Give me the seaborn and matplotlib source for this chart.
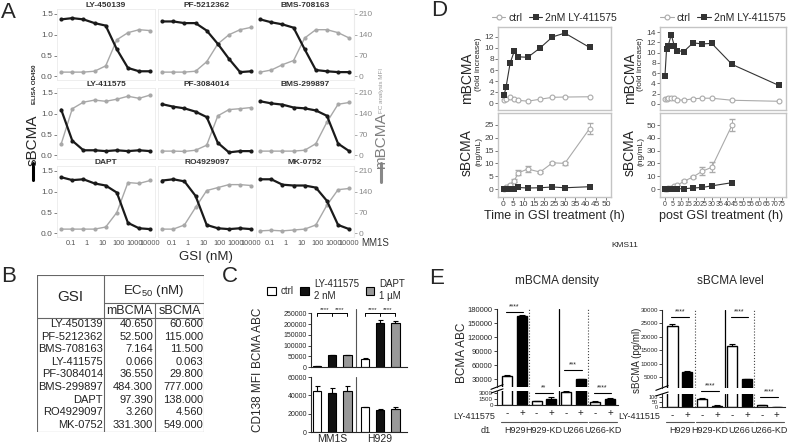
import numpy as np
import pandas as pd
import matplotlib
matplotlib.use("Agg")
import matplotlib.pyplot as plt
import matplotlib.transforms as mtransforms
from matplotlib.lines import Line2D
from matplotlib.container import BarContainer
import seaborn as sns

sns.set_style("ticks")
plt.rcParams['font.family'] = ['Liberation Sans', 'DejaVu Sans']
plt.rcParams['mathtext.default'] = 'regular'

W, H = 790, 444

# ---- panel A: dose response, 9 GSIs (MM1S)
gsi_names = ['LY-450139', 'PF-5212362', 'BMS-708163',
             'LY-411575', 'PF-3084014', 'BMS-299897',
             'DAPT', 'RO4929097', 'MK-0752']
gsi_conc = [0.0256, 0.128, 0.64, 3.2, 16, 80, 400, 2000, 10000]
sbcma_od = [
    [1.37, 1.40, 1.37, 1.28, 1.22, 0.65, 0.20, 0.12, 0.12],
    [1.32, 1.32, 1.28, 1.28, 1.10, 0.78, 0.42, 0.10, 0.12],
    [1.37, 1.30, 1.25, 1.17, 0.65, 0.15, 0.12, 0.10, 0.10],
    [1.10, 0.35, 0.12, 0.12, 0.10, 0.12, 0.10, 0.12, 0.10],
    [1.23, 1.17, 1.13, 1.05, 0.92, 0.30, 0.07, 0.10, 0.10],
    [1.30, 1.25, 1.22, 1.15, 1.13, 1.08, 0.95, 0.28, 0.10],
    [1.35, 1.28, 1.30, 1.20, 1.15, 0.98, 0.25, 0.12, 0.10],
    [1.27, 1.30, 1.25, 0.90, 0.20, 0.12, 0.10, 0.12, 0.10],
    [1.30, 1.30, 1.17, 1.15, 1.15, 1.10, 0.78, 0.20, 0.10],
]
mbcma_mfi = [
    [14, 14, 14, 17, 35, 123, 147, 157, 154],
    [14, 14, 14, 17, 49, 109, 140, 157, 165],
    [14, 21, 39, 53, 129, 157, 157, 147, 129],
    [38, 157, 179, 186, 182, 189, 199, 192, 203],
    [14, 14, 13, 17, 34, 133, 154, 157, 161],
    [14, 14, 14, 14, 17, 39, 112, 172, 178],
    [14, 14, 14, 14, 21, 70, 171, 168, 178],
    [14, 14, 28, 87, 144, 154, 164, 164, 161],
    [8, 10, 8, 11, 14, 28, 95, 147, 151],
]

# ---- panel B: EC50 table
ec50_mbcma = ['40.650', '52.500', '7.164', '0.066', '36.550', '484.300', '97.390', '3.260', '331.300']
ec50_sbcma = ['60.600', '115.000', '11.500', '0.063', '29.800', '777.000', '138.000', '4.560', '549.000']

# ---- panel C: bars
c_cells = ['MM1S', 'H929']
c_treat = ['ctrl', 'LY-411575\n2 nM', 'DAPT\n1 µM']
abc_mm1s = [4500, 55000, 55000]
abc_h929 = [39000, 206000, 205000]
abc_err_mm1s = [800, 2500, 2000]
abc_err_h929 = [2500, 12000, 7000]
cd138_mm1s = [45000, 42500, 44300]
cd138_h929 = [26800, 24400, 25500]
cd138_err_mm1s = [5500, 5000, 5500]
cd138_err_h929 = [400, 1000, 1500]

# ---- panel D: time course (KMS11)
t_in = [0.5, 1.5, 3.5, 5.5, 7.5, 12, 18, 24, 30, 42]
in_m_ctrl = [0.6, 0.8, 1.1, 0.8, 0.5, 0.35, 0.7, 1.05, 1.1, 1.15]
in_m_ly = [1.4, 2.9, 7.3, 9.4, 8.4, 8.3, 10.0, 12.0, 12.7, 10.1]
in_s_ctrl = [0.2, 0.6, 1.5, 3.3, 6.3, 7.8, 6.6, 10.2, 10.0, 23.5]
in_s_ctrl_err = [0.1, 0.2, 0.3, 0.5, 1.0, 1.0, 0.4, 0.3, 0.5, 2.2]
in_s_ly = [0.0, 0.1, 0.2, 0.2, 0.6, 0.4, 0.5, 0.8, 0.5, 0.9]

t_post = [0, 1, 2, 4, 6, 8, 12, 18, 24, 30, 43, 73]
post_m_ctrl = [1.0, 0.9, 1.1, 1.2, 1.1, 0.8, 0.7, 1.0, 1.1, 1.1, 0.7, 0.5]
post_m_ly = [5.5, 10.7, 11.3, 13.5, 11.3, 10.4, 10.2, 11.9, 11.7, 11.8, 7.7, 3.6]
t_post_s = [0, 1, 2, 4, 6, 8, 12, 18, 24, 30, 43]
post_s_ctrl = [0, 0.2, 0.5, 1.0, 2.0, 3.0, 6.0, 9.5, 14, 17, 50]
post_s_ctrl_err = [0.2, 0.2, 0.3, 0.4, 0.5, 0.5, 0.8, 1.0, 3.0, 4.0, 5.0]
post_s_ly = [0, 0, 0, 0, 0.1, 0.2, 0.3, 0.8, 1.3, 2.5, 5.0]

# ---- panel E: knockdown bars
e_groups = ['H929', 'H929-KD', 'U266', 'U266-KD']
e_ly = ['-', '+'] * 4
e_abc = [37500, 165000, 900, 1600, 3300, 30000, 800, 1600]
e_abc_err = [1200, 2500, 150, 300, 200, 800, 100, 200]
e_sbcma = [24000, 7000, 85, 15, 16500, 4200, 20, 3]
e_sbcma_err = [900, 400, 5, 3, 900, 150, 5, 1]


fig = plt.figure(figsize=(W / 100, H / 100), dpi=100)


def px_axes(x0, y0, x1, y1):
    return fig.add_axes([x0 / W, 1 - y1 / H, (x1 - x0) / W, (y1 - y0) / H])


def ftext(x, y, s, **kw):
    kw.setdefault('va', 'center')
    return fig.text(x / W, 1 - y / H, s, **kw)


def fline(xs, ys, **kw):
    fig.add_artist(Line2D([x / W for x in xs], [1 - y / H for y in ys], **kw))


def bar_containers(ax):
    return [c for c in ax.containers if isinstance(c, BarContainer)]


# ================= A =================
col_x = [57, 158, 256]
row_y = [9, 88, 166]
for i, name in enumerate(gsi_names):
    r, c = divmod(i, 3)
    ax = px_axes(col_x[c], row_y[r], col_x[c] + 98, row_y[r] + 71)
    df = pd.DataFrame({'conc': gsi_conc, 'od': sbcma_od[i],
                       'mfi': np.array(mbcma_mfi[i]) / 140})
    sns.lineplot(data=df, x='conc', y='mfi', color='#a8a8a8', lw=1.0,
                 marker='o', markersize=3, markeredgewidth=0, ax=ax)
    sns.lineplot(data=df, x='conc', y='od', color='#1a1a1a', lw=1.6,
                 marker='o', markersize=3, markeredgewidth=0, ax=ax)
    ax.set_xscale('log')
    ax.set_xlim(0.014, 20000)
    ax.set_ylim(-0.09, 1.62)
    ax.set_xlabel('')
    ax.set_ylabel('')
    ax.minorticks_off()
    for s in ax.spines.values():
        s.set_color('#ebebeb')
        s.set_linewidth(0.6)
    ax.set_title(name, fontsize=6, fontweight='bold', color='#333333', pad=1.5)
    ax.set_yticks([0, 0.5, 1.0, 1.5])
    ax.set_xticks([0.1, 1, 10, 100, 1000, 10000])
    if c == 0:
        ax.set_yticklabels(['0.0', '0.5', '1.0', '1.5'])
        ax.tick_params(axis='y', labelsize=6, length=2, width=0.5,
                       colors='#555555', pad=1)
    else:
        ax.tick_params(axis='y', left=False, labelleft=False)
    if r == 2:
        ax.set_xticklabels(['0.1', '1', '10', '100', '1000', '10000'])
        ax.tick_params(axis='x', labelsize=5.3, length=0, colors='#555555', pad=2)
    else:
        ax.tick_params(axis='x', bottom=False, labelbottom=False)
    if c == 2:
        sec = ax.secondary_yaxis('right', functions=(lambda y: y * 140, lambda v: v / 140))
        sec.set_yticks([0, 70, 140, 210])
        sec.tick_params(labelsize=6, length=2, width=0.5, colors='#8a8a8a', pad=1)
        sec.spines['right'].set_color('#ebebeb')

ftext(1, 12, 'A', fontsize=16)
ftext(206, 257, 'GSI (nM)', fontsize=9.5, ha='center')
ftext(361, 243, 'MM1S', fontsize=7, color='#333333')
ftext(33, 140, 'sBCMA', rotation=90, fontsize=11, ha='center')
ftext(34, 84, 'ELISA OD450', rotation=90, fontsize=4.5, fontweight='bold', ha='center')
fline([33, 33], [163, 180], color='black', lw=2.2)
ftext(381, 141, 'mBCMA', rotation=90, fontsize=11, color='#808080', ha='center')
ftext(381, 90, 'FC analysis MFI', rotation=90, fontsize=4.5, color='#999999', ha='center')
fline([381, 381], [163, 182], color='#888888', lw=2.2)

# ================= B =================
ftext(1, 277, 'B', fontsize=16)
axb = px_axes(37, 275, 204, 432)
axb.set_xlim(37, 204)
axb.set_ylim(432, 275)
axb.axis('off')
lk = dict(color='#666666', lw=0.8)
axb.plot([37, 204, 204, 37, 37], [275, 275, 432, 432, 275], **lk)
axb.plot([104, 104], [275, 432], **lk)
axb.plot([155, 155], [303, 432], **lk)
axb.plot([104, 204], [303, 303], **lk)
axb.plot([37, 204], [318, 318], **lk)
axb.text(70, 297, 'GSI', fontsize=11, ha='center', va='center')
axb.text(154, 291, r'EC$_{50}$ (nM)', fontsize=9.5, ha='center', va='center')
axb.text(129.5, 311, 'mBCMA', fontsize=9, ha='center', va='center')
axb.text(179.5, 311, 'sBCMA', fontsize=9, ha='center', va='center')
for k, name in enumerate(gsi_names):
    yy = 324 + 12.6 * k
    axb.text(103, yy, name, fontsize=8, ha='right', va='center', color='#222222')
    axb.text(153, yy, ec50_mbcma[k], fontsize=8, ha='right', va='center', color='#222222')
    axb.text(203, yy, ec50_sbcma[k], fontsize=8, ha='right', va='center', color='#222222')

# ================= C =================
ftext(222, 277, 'C', fontsize=16)
c_pal = ['white', '#111111', '#999999']


def c_bars(ax, v_mm1s, v_h929, e_mm1s, e_h929, with_legend=False):
    df = pd.DataFrame({'cell': [c_cells[0]] * 3 + [c_cells[1]] * 3,
                       'treat': c_treat * 2,
                       'val': v_mm1s + v_h929})
    sns.barplot(data=df, x='cell', y='val', hue='treat', palette=c_pal,
                width=0.96, gap=0.45, edgecolor='black', linewidth=0.8,
                legend=with_legend, ax=ax)
    errs = [[e_mm1s[h], e_h929[h]] for h in range(3)]
    for h, cont in enumerate(bar_containers(ax)):
        for j, bar in enumerate(cont):
            cx = bar.get_x() + bar.get_width() / 2
            ax.errorbar(cx, bar.get_height(), yerr=[[0], [errs[h][j]]],
                        color='black', capsize=1.8, lw=0.8, capthick=0.8)
    ax.axvline(0.5, color='#555555', lw=0.8)
    ax.set_xlim(-0.44, 1.56)
    ax.set_xlabel('')
    sns.despine(ax=ax)
    ax.tick_params(axis='y', labelsize=5, length=2, width=0.6, pad=1)


axc1 = px_axes(311, 309, 407, 367)
c_bars(axc1, abc_mm1s, abc_h929, abc_err_mm1s, abc_err_h929, with_legend=True)
axc1.set_ylim(0, 270000)
axc1.set_yticks(range(0, 250001, 50000))
axc1.spines['left'].set_bounds(0, 250000)
axc1.tick_params(axis='x', length=0, labelbottom=False)
axc1.set_ylabel('')
handles, labels = axc1.get_legend_handles_labels()
axc1.get_legend().remove()
fig.legend(handles, labels, loc='center', ncol=3, frameon=False, fontsize=7,
           bbox_to_anchor=(336 / W, 1 - 290 / H), handlelength=0.9, handleheight=0.9,
           columnspacing=0.7, handletextpad=0.5)
xs = [b.get_x() + b.get_width() / 2 for cont in bar_containers(axc1) for b in cont]
for g in range(2):
    cx = [xs[g], xs[2 + g], xs[4 + g]]
    axc1.plot([cx[0], cx[2]], [251000, 251000], color='black', lw=0.7, clip_on=False)
    for xx in cx:
        axc1.plot([xx, xx], [251000, 238000], color='black', lw=0.7, clip_on=False)
    for a, b in [(0, 1), (1, 2)]:
        axc1.text((cx[a] + cx[b]) / 2, 256000, '****', fontsize=4.5, ha='center',
                  va='bottom', clip_on=False)

axc2 = px_axes(311, 377, 407, 432)
c_bars(axc2, cd138_mm1s, cd138_h929, cd138_err_mm1s, cd138_err_h929)
axc2.set_ylim(0, 60000)
axc2.set_yticks([0, 20000, 40000, 60000])
axc2.set_ylabel('')
axc2.tick_params(axis='x', labelsize=7.5, length=0, pad=1.5)
ftext(258, 338, 'BCMA ABC', rotation=90, fontsize=8.5, ha='center')
ftext(258, 402, 'CD138 MFI', rotation=90, fontsize=8.5, ha='center')

# ================= D =================
ftext(431, 10, 'D', fontsize=16)
ctrl_kw = dict(color='#aaaaaa', lw=0.8, marker='o', markersize=3.5,
               markerfacecolor='white', markeredgecolor='#aaaaaa', markeredgewidth=0.8)
ly_kw = dict(color='#333333', lw=0.8, marker='s', markersize=3.8,
             markeredgewidth=0)


def d_style(ax, xlim, ylim, yticks, xticks=None, xsize=6):
    ax.set_xlim(*xlim)
    ax.set_ylim(*ylim)
    ax.set_yticks(yticks)
    for s in ax.spines.values():
        s.set_color('#c4c4c4')
        s.set_linewidth(1.0)
    ax.tick_params(axis='y', labelsize=6, length=2, width=0.5, colors='#444444', pad=1)
    if xticks is None:
        ax.tick_params(axis='x', bottom=False, labelbottom=False)
    else:
        ax.set_xticks(xticks)
        ax.tick_params(axis='x', labelsize=xsize, length=2, width=0.5, colors='#444444', pad=1)
    ax.set_xlabel('')
    ax.set_ylabel('')


for side, (x0, x1) in enumerate([(498, 611), (660, 786)]):
    axt = px_axes(x0, 27, x1, 110)
    axs = px_axes(x0, 113, x1, 197)
    if side == 0:
        tm, mc, ml = t_in, in_m_ctrl, in_m_ly
        ts, sc, se, sl = t_in, in_s_ctrl, in_s_ctrl_err, in_s_ly
    else:
        tm, mc, ml = t_post, post_m_ctrl, post_m_ly
        ts, sc, se, sl = t_post_s, post_s_ctrl, post_s_ctrl_err, post_s_ly
    sns.lineplot(x=tm, y=mc, label='ctrl', ax=axt, **ctrl_kw)
    sns.lineplot(x=tm, y=ml, label='2nM LY-411575', ax=axt, **ly_kw)
    axt.legend(loc='lower center', bbox_to_anchor=(0.5, 1.0), ncol=2, frameon=False,
               fontsize=7.5, handlelength=1.3, handletextpad=0.3, columnspacing=0.6,
               borderaxespad=0.3, borderpad=0.1)
    axs.errorbar(ts, sc, yerr=se, fmt='none', ecolor='#aaaaaa', elinewidth=0.7, capsize=2)
    sns.lineplot(x=ts, y=sc, ax=axs, **ctrl_kw)
    sns.lineplot(x=ts, y=sl, ax=axs, **ly_kw)
    if side == 0:
        d_style(axt, (-2.4, 52.4), (-1.25, 13.8), range(0, 13, 2))
        d_style(axs, (-2.4, 52.4), (-3.1, 29.6), range(0, 26, 5), range(0, 51, 5))
    else:
        d_style(axt, (-3.2, 77.6), (-1.2, 15.0), range(0, 15, 2))
        d_style(axs, (-3.2, 77.6), (-6.2, 59.4), range(0, 51, 10), range(0, 76, 5),
                xsize=5)

for xl, xs_ in [(467, 479), (630, 641)]:
    ftext(xl, 78, 'mBCMA', rotation=90, fontsize=10, ha='center')
    ftext(xs_, 64, '(fold increase)', rotation=90, fontsize=6, ha='center')
    ftext(xl, 153, 'sBCMA', rotation=90, fontsize=10, ha='center')
    ftext(xs_, 151, '(ng/mL)', rotation=90, fontsize=6, ha='center')
ftext(554, 216, 'Time in GSI treatment (h)', fontsize=9, ha='center')
ftext(721, 216, 'post GSI treatment (h)', fontsize=9, ha='center')
ftext(625, 245, 'KMS11', fontsize=6, ha='center')

# ================= E =================
ftext(429, 278, 'E', fontsize=16)
ftext(557, 281, 'mBCMA density', fontsize=8.5, ha='center')
ftext(730, 281, 'sBCMA level', fontsize=8.5, ha='center')


def e_panel(box_up, box_lo, vals, errs, lim_up, lim_lo, ticks_up, ticks_lo,
            tsize, tsize_lo, sigs, ly_label, show_d1):
    up = px_axes(*box_up)
    lo = px_axes(*box_lo)
    df = pd.DataFrame({'pos': range(8), 'val': vals, 'ly': e_ly})
    for ax in (up, lo):
        sns.barplot(data=df, x='pos', y='val', hue='ly', dodge=False,
                    palette={'-': 'white', '+': 'black'}, width=0.68,
                    edgecolor='black', linewidth=1.0, legend=False, ax=ax)
        ax.errorbar(range(8), vals, yerr=[np.zeros(8), errs], fmt='none',
                    ecolor='black', elinewidth=0.8, capsize=2, capthick=0.8)
        ax.axvline(1.5, color='#444444', lw=0.8, ls=':')
        ax.axvline(3.5, color='black', lw=0.9)
        ax.axvline(5.5, color='#444444', lw=0.8, ls=':')
        ax.set_xlim(-0.7, 7.55)
        ax.set_xlabel('')
        ax.set_ylabel('')
        ax.tick_params(axis='y', labelsize=tsize, length=2, width=0.6, pad=1)
        sns.despine(ax=ax)
    up.set_ylim(*lim_up)
    lo.set_ylim(*lim_lo)
    up.set_yticks(ticks_up)
    lo.set_yticks(ticks_lo)
    lo.tick_params(axis='y', labelsize=tsize_lo)
    up.spines['bottom'].set_visible(False)
    up.tick_params(axis='x', bottom=False, labelbottom=False)
    lo.set_xticks(range(8), e_ly)
    lo.tick_params(axis='x', length=0, labelsize=7, pad=2)
    # break marks on the y axis
    up.plot([-0.05, 0.05], [-0.03, 0.03], transform=up.transAxes, color='black',
            lw=0.8, clip_on=False)
    lo.plot([-0.05, 0.05], [0.85, 1.15], transform=lo.transAxes, color='black',
            lw=0.8, clip_on=False)
    # significance
    for which, pair, yline, stars in sigs:
        ax = up if which == 'up' else lo
        x0, x1 = 2 * pair, 2 * pair + 1
        ax.plot([x0 - 0.1, x1 + 0.1], [yline, yline], color='black', lw=0.8, clip_on=False)
        tr = mtransforms.offset_copy(ax.transData, fig=fig, y=1.0, units='points')
        ax.text((x0 + x1) / 2, yline, stars, transform=tr, fontsize=5,
                ha='center', va='bottom', clip_on=False)
    # grouping below
    tr = mtransforms.blended_transform_factory(lo.transData, fig.transFigure)
    for k, g in enumerate(e_groups):
        lo.plot([2 * k - 0.45, 2 * k + 1.45], [1 - 422 / H] * 2, transform=tr,
                color='#555555', lw=0.8, clip_on=False)
        lo.text(2 * k + 0.5, 1 - 430 / H, g, transform=tr, fontsize=6.5,
                ha='center', va='center')
    ftext(box_lo[0] - 2, 416, ly_label, fontsize=6.5, ha='right')
    if show_d1:
        ftext(486, 430, 'd1', fontsize=6.5, ha='center')
    return up, lo


e_panel((497, 309, 618, 387), (497, 391, 618, 405), e_abc, e_abc_err,
        (13000, 180000), (0, 3500), range(30000, 180001, 30000), [0, 1500, 3000], 5.5, 4.5,
        [('up', 0, 173000, '****'), ('lo', 1, 3000, '**'),
         ('up', 2, 49000, '***'), ('lo', 3, 3000, '****')],
        'LY-411575', True)
e_panel((662, 310, 785, 388), (662, 394, 785, 407), e_sbcma, e_sbcma_err,
        (900, 30000), (0, 130), range(5000, 30001, 5000), [0, 50, 100], 4.5, 4,
        [('up', 0, 27400, '****'), ('lo', 1, 160, '****'),
         ('up', 2, 27400, '****'), ('lo', 3, 100, '****')],
        'LY-411515', False)
ftext(462, 353, 'BCMA ABC', rotation=90, fontsize=8.5, ha='center')
ftext(637, 360, 'sBCMA (pg/ml)', rotation=90, fontsize=7, ha='center')

fig.savefig('out.png', dpi=100)
